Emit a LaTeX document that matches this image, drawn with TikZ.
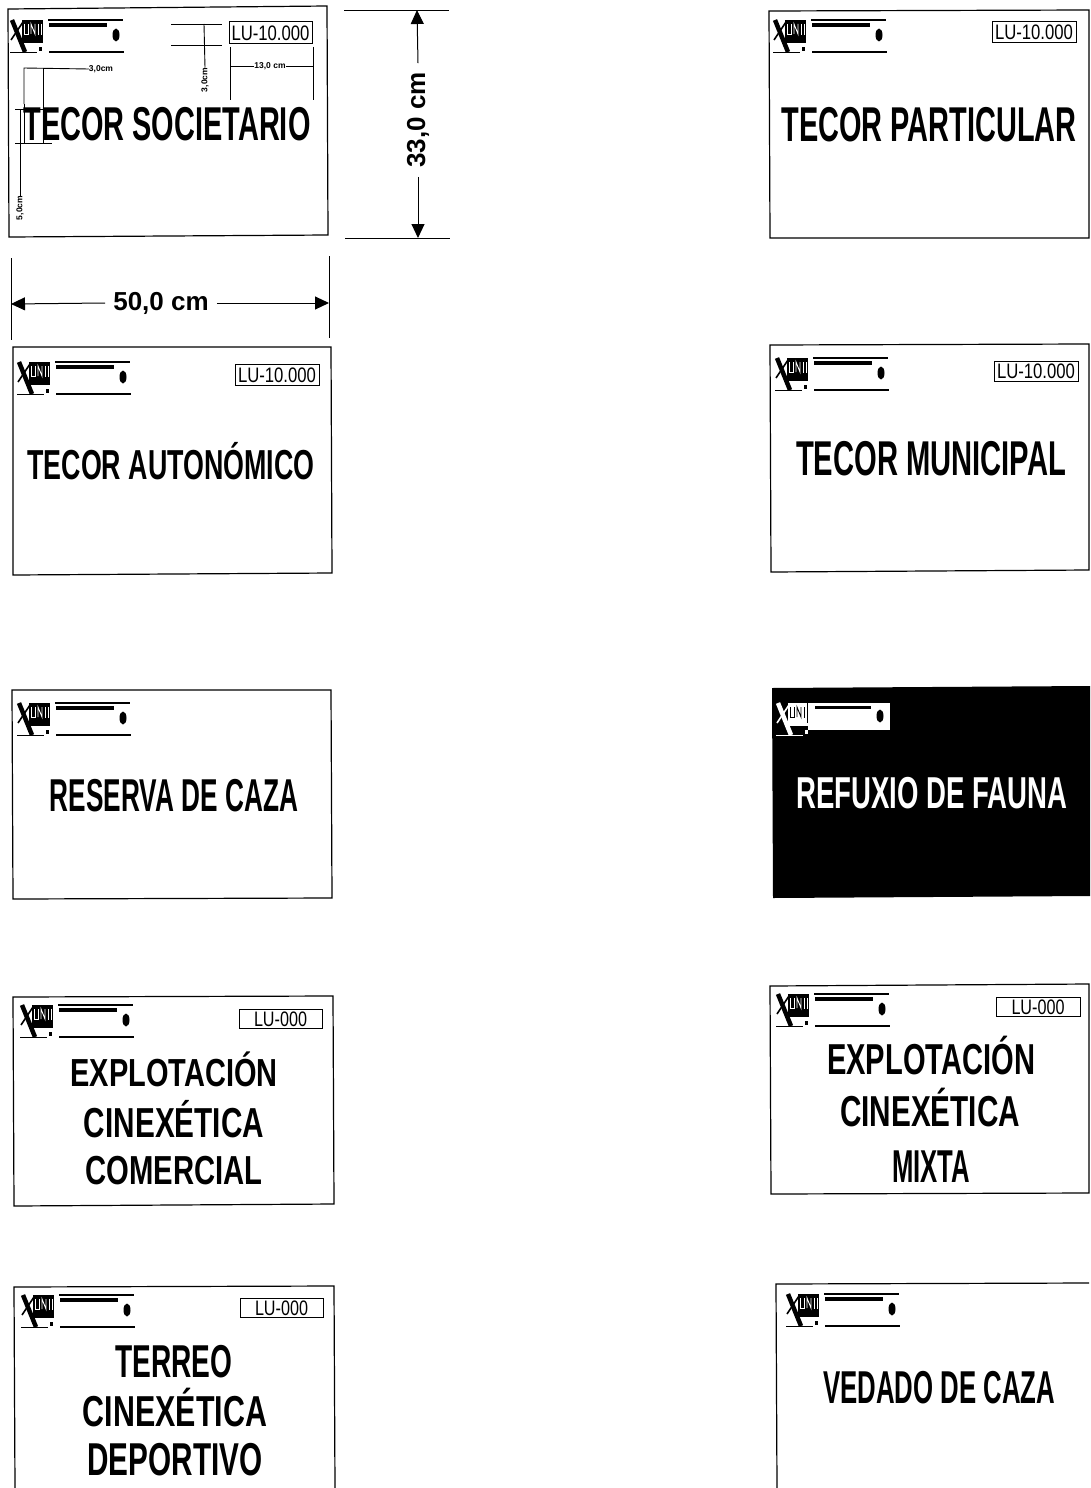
\documentclass[tikz,border=0pt]{standalone}
\usepackage{fontspec}
\usepackage{graphicx}
\usetikzlibrary{arrows.meta}
\setmainfont{Liberation Sans}

% text forced to a given width and cap height
\newcommand{\signtext}[3]{\resizebox{#1pt}{#2pt}{\raisebox{0pt}[.716em][0pt]{#3}}}
\newcommand{\logomark}[2]{
	\fill[#1] (13,0) rectangle (34,23);
	\draw[#1,line width=4.5pt] (3,0) -- (16,32);
	\draw[#1,line width=1.6pt] (14,2) -- (2,20);
	\draw[#1] (1,32) -- (28,32);
	\fill[#1] (30,27) rectangle (33,31);
	\draw[#2,line width=.9pt] (15,4) -- (15,14) -- (19,14) -- (19,4);
	\draw[#2,line width=.9pt] (22,14) -- (22,4) -- (26,14) -- (26,4);
	\draw[#2,line width=.9pt] (29,4) -- (29,15);
	\draw[#2,line width=.9pt] (32,4) -- (32,15);
}
\tikzset{
	signframe/.style={draw=black,line width=1.2pt},
	titletext/.style={font=\bfseries\fontsize{40}{40}\selectfont,inner sep=0pt,text=black,yshift=1.5pt},
	platebox/.style={draw=black,line width=1pt},
	platetext/.style={font=\fontsize{20}{20}\selectfont,inner sep=0pt},
	dimline/.style={line width=.9pt},
	dimtiny/.style={font=\bfseries\fontsize{8.5}{8.5}\selectfont,inner sep=0pt},
	dimarrow/.style={line width=1pt,-{Stealth[length=14pt,width=13pt,inset=0pt]}},
	dimlabel/.style={font=\bfseries\fontsize{26}{26}\selectfont,inner sep=0pt},
	signhead/.pic={
		\logomark{black}{white}
		\draw[black,line width=1.1pt] (39,0) -- (114,0);
		\fill[black] (40,3) rectangle (98,7);
		\fill[black] (107,15) ellipse [x radius=3.5,y radius=6.5];
		\draw[black,line width=1.1pt] (40,32) -- (115,32);
	},
	signheadinv/.pic={
		\logomark{white}{black}
		\fill[white] (33,0) rectangle (115,27);
		\fill[black] (31.5,0) rectangle (33,20);
		\fill[black] (40,3) rectangle (96,6);
		\fill[black] (105,13) ellipse [x radius=3.5,y radius=6.5];
	}
}

\begin{document}
\begin{tikzpicture}[x=1pt,y=-1pt]
	\useasboundingbox (0,0) rectangle (1090,1488);

	% frames
	\draw[signframe] (8,9) -- (327,6) -- (328,235) -- (9,237) -- cycle;
	\draw[signframe] (769,11) -- (1089,10) -- (1089,238) -- (770,238) -- cycle;
	\draw[signframe] (13,347) -- (331,347) -- (332,573) -- (13,575) -- cycle;
	\draw[signframe] (770,345) -- (1089,344) -- (1089,570) -- (771,572) -- cycle;
	\draw[signframe] (12,690) -- (331,690) -- (332,898) -- (13,899) -- cycle;
	\fill[black] (772,688) -- (1090,686) -- (1090,896) -- (773,898) -- cycle;
	\draw[signframe] (13,997) -- (333,996) -- (334,1204) -- (14,1206) -- cycle;
	\draw[signframe] (770,986) -- (1089,984) -- (1089,1193) -- (771,1194) -- cycle;
	\draw[signframe] (15,1488) -- (14,1287) -- (334,1286) -- (335,1488);
	\draw[signframe] (777,1488) -- (776,1284) -- (1089,1283);

	% heads
	\foreach \x/\y in {9/20,772/20,16/362,774/358,16/703,19/1005,775/994,20/1295,785/1294}{
		\pic at (\x,\y) {signhead};
	}
	\pic at (775,703) {signheadinv};

	% plates
	\foreach \name/\x/\y/\w/\h/\tw/\t in {plateA/229/22/83/22/78/LU-10.000,plateB/992/22/84/21/78/LU-10.000,plateC/235/364/84/21/78/LU-10.000,plateD/994/361/84/20/78/LU-10.000,plateE/239/1009/83/19/53/LU-000,plateF/996/997/84/19/53/LU-000,plateG/240/1298/83/19/53/LU-000}{
		\draw[platebox] (\x,\y) rectangle ++(\w,\h);
		\node[platetext,anchor=center] (\name) at (\x+\w/2,\y+\h/2) {\signtext{\tw}{15}{\t}};
	}

	% titles
	\node[titletext] (titleA) at (167,125) {\signtext{287}{34}{TECOR SOCIETARIO}};
	\node[titletext] (titleB) at (929,125) {\signtext{295}{35}{TECOR PARTICULAR}};
	\node[titletext] (titleC) at (171,466) {\signtext{287}{30}{TECOR AUTONÓMICO}};
	\node[titletext] (titleD) at (931,459) {\signtext{270}{35}{TECOR MUNICIPAL}};
	\node[titletext] (titleE) at (174,796) {\signtext{248}{33}{RESERVA DE CAZA}};
	\node[titletext,text=white] (titleF) at (932,794) {\signtext{271}{32}{REFUXIO DE FAUNA}};
	\node[titletext] (titleG) at (174,1074) {\signtext{207}{28}{EXPLOTACIÓN}};
	\node[titletext] (titleH) at (174,1124) {\signtext{180}{30}{CINEXÉTICA}};
	\node[titletext] (titleI) at (174,1171) {\signtext{177}{29}{COMERCIAL}};
	\node[titletext] (titleJ) at (931,1060) {\signtext{208}{31}{EXPLOTACIÓN}};
	\node[titletext] (titleK) at (930,1112) {\signtext{180}{31}{CINEXÉTICA}};
	\node[titletext] (titleL) at (931,1167) {\signtext{78}{33}{MIXTA}};
	\node[titletext] (titleM) at (174,1362) {\signtext{117}{33}{TERREO}};
	\node[titletext] (titleN) at (175,1412) {\signtext{184}{31}{CINEXÉTICA}};
	\node[titletext] (titleO) at (175,1460) {\signtext{175}{33}{DEPORTIVO}};
	\node[titletext] (titleP) at (939,1388) {\signtext{232}{33}{VEDADO DE CAZA}};

	% outer dimensions
	\draw[dimline] (344,10) coordinate (topL) -- (449,10) coordinate (topR);
	\draw[dimline] (345,238) coordinate (botL) -- (450,238) coordinate (botR);
	\draw[dimline] (11,258) -- (11,340);
	\draw[dimline] (329,256) -- (329,338);
	\coordinate (hTop) at (417,10);
	\coordinate (hBot) at (418,238);
	\coordinate (wLeft) at (11,304);
	\coordinate (wRight) at (329,303);
	\node[dimlabel,rotate=90] (heightLabel) at (418,120) {33,0 cm};
	\node[dimlabel] (widthLabel) at (161,303) {50,0 cm};
	\draw[dimarrow] (heightLabel.east) ++(0,-9) -- (hTop);
	\draw[dimarrow] (heightLabel.west) ++(0,9) -- (hBot);
	\draw[dimarrow] (widthLabel.west) ++(-8,0) -- (wLeft);
	\draw[dimarrow] (widthLabel.east) ++(8,0) -- (wRight);

	% dimensions on the first sign
	\node[dimtiny] (dimA) at (101,69) {3,0cm};
	\node[dimtiny] (dimC) at (270,66) {13,0 cm};
	\node[dimtiny,rotate=90] (dimB) at (205,80) {3,0cm};
	\node[dimtiny,rotate=90] (dimD) at (20,208) {5,0cm};
	\draw[dimline] (dimA.west) -- (24,68) -- (24,104);
	\draw[dimline] (43,68) -- (43,143);
	\draw[dimline] (24,104) -- (24,143);
	\draw[dimline] (171,24) -- (222,24);
	\draw[dimline] (171,45) -- (222,45);
	\draw[dimline] (204,24) -- (dimB.east);
	\draw[dimline] (230,47) -- (230,100);
	\draw[dimline] (313,47) -- (313,100);
	\draw[dimline] (dimC.west) -- (231,66);
	\draw[dimline] (dimC.east) -- (313,66);
	\draw[dimline] (15,109) -- (45,109);
	\draw[dimline] (15,143) -- (52,143);
	\draw[dimline] (20,109) -- (dimD.east);
\end{tikzpicture}
\end{document}
